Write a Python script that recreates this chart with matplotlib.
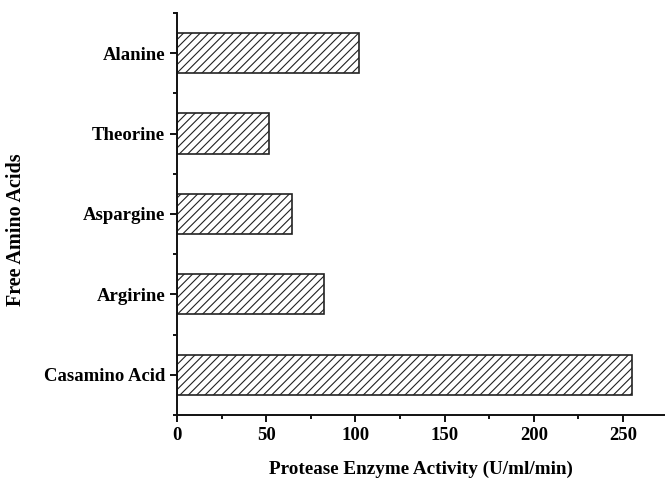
import matplotlib
matplotlib.use("Agg")
import matplotlib.pyplot as plt
from matplotlib.ticker import MultipleLocator, FixedLocator

categories = ["Casamino Acid", "Argirine", "Aspargine", "Theorine", "Alanine"]
activity = [255, 82.5, 64.5, 51.5, 102]
xticks = [0, 50, 100, 150, 200, 250]

plt.rcParams['font.family'] = ['Liberation Serif', 'DejaVu Serif']
plt.rcParams['font.weight'] = 'bold'
plt.rcParams['hatch.linewidth'] = 0.8

fig = plt.figure(figsize=(6.65, 4.78), dpi=100)
ax = fig.add_axes([0.266, 0.132, 0.734, 0.841])

ypos = list(range(len(categories)))
ax.barh(ypos, activity, height=0.5, color='white', edgecolor='#222222',
        linewidth=1.2, hatch='////')

ax.set_xlim(0, 273.5)
ax.set_ylim(-0.5, 4.5)
ax.set_xticks(xticks)
ax.set_xticklabels([str(t) for t in xticks])
ax.xaxis.set_minor_locator(MultipleLocator(25))
ax.set_yticks(ypos)
ax.set_yticklabels(categories)
ax.yaxis.set_minor_locator(FixedLocator([-0.5, 0.5, 1.5, 2.5, 3.5, 4.5]))

for s in ['top', 'right']:
    ax.spines[s].set_visible(False)
for s in ['left', 'bottom']:
    ax.spines[s].set_linewidth(1.4)
    ax.spines[s].set_color('#111111')

ax.tick_params(axis='both', which='major', direction='out', length=5, width=1.4,
               labelsize=13.5, colors='#111111', labelcolor='black')
ax.tick_params(axis='both', which='minor', direction='out', length=3, width=1.4,
               colors='#111111')
for lbl in ax.get_xticklabels() + ax.get_yticklabels():
    lbl.set_fontweight('bold')

ax.set_xlabel("Protease Enzyme Activity (U/ml/min)", fontsize=13.8,
              fontweight='bold', labelpad=12)
ax.set_ylabel("Free Amino Acids", fontsize=14.5, fontweight='bold')
ax.yaxis.set_label_coords(-0.309, 0.461)

fig.savefig("out.png", dpi=100)
